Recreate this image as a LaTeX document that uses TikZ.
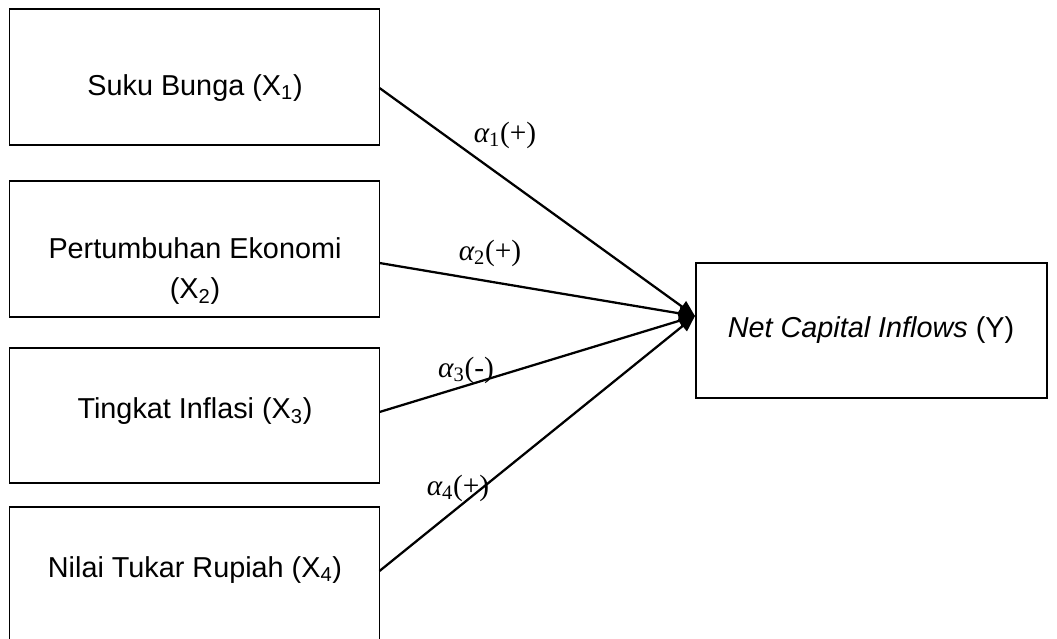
\documentclass[tikz,border=0pt]{standalone}
\usepackage{fontspec}
\setmainfont{Liberation Sans}
\newfontfamily\labfont{Liberation Serif}
\usetikzlibrary{arrows.meta}
\newcommand{\alab}[2]{{\labfont\itshape α}\textsubscript{\labfont #1}{\labfont(#2)}}
\begin{document}
\begin{tikzpicture}[x=0.75pt,y=-0.75pt,
  box/.style={draw=black,line width=1.4pt,minimum width=370*0.75pt,inner sep=0pt,fill=none},
  txt/.style={font=\fontsize{21.6}{30}\selectfont,align=center,inner sep=0pt},
  lab/.style={font=\fontsize{22}{26}\selectfont,inner sep=0pt},
  conn/.style={line width=1.7pt,-{Triangle[length=12pt,width=10pt]}}]
\useasboundingbox (0,0) rectangle (1057,639);
\node[box,minimum height=136*0.75pt] (b1) at (194.5,77) {};
\node[box,minimum height=136*0.75pt] (b2) at (194.5,249) {};
\node[box,minimum height=135*0.75pt] (b3) at (194.5,415.5) {};
\node[box,minimum height=136*0.75pt] (b4) at (194.5,575) {};
\node[box,minimum width=351*0.75pt,minimum height=135*0.75pt] (y) at (871.5,330.5) {};
\node[txt] (t1) at (195,88) {Suku Bunga (X\textsubscript{1})};
\node[txt] (t2) at (195,271) {Pertumbuhan Ekonomi\\(X\textsubscript{2})};
\node[txt] (t3) at (195,411) {Tingkat Inflasi (X\textsubscript{3})};
\node[txt] (t4) at (195,570) {Nilai Tukar Rupiah (X\textsubscript{4})};
\node[txt] (ty) at (871,330) {\textit{Net Capital Inflows} (Y)};
\coordinate (s1) at (379.5,88);
\coordinate (s2) at (379.5,263);
\coordinate (s3) at (379.5,412);
\coordinate (s4) at (379.5,571);
\coordinate (tip) at (695,316);
\draw[conn] (s1) -- (tip);
\draw[conn] (s2) -- (tip);
\draw[conn] (s3) -- (tip);
\draw[conn] (s4) -- (tip);
\node[lab] (l1) at (505,135) {\alab{1}{+}};
\node[lab] (l2) at (490,253) {\alab{2}{+}};
\node[lab] (l3) at (466,370) {\alab{3}{-}};
\node[lab] (l4) at (458,488) {\alab{4}{+}};
\end{tikzpicture}
\end{document}
